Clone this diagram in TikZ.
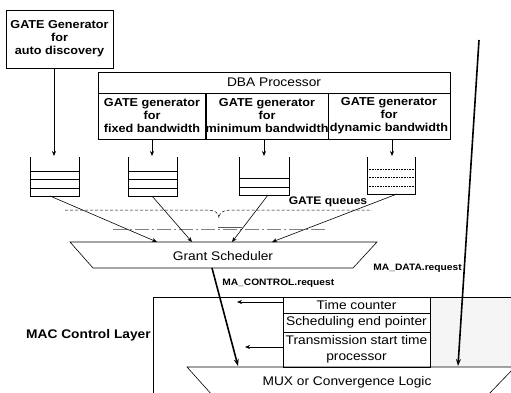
\documentclass[tikz,border=0pt]{standalone}
\usepackage{fontspec}
\setmainfont{Liberation Sans}[FakeStretch=1.1]
\usetikzlibrary{arrows.meta,decorations.pathreplacing}
\begin{document}
\begin{tikzpicture}[x=1pt,y=-1pt, line width=0.6pt,
  box/.style={draw, inner sep=0pt, outer sep=0pt},
  bt/.style={font=\fontsize{11.5}{13}\selectfont\bfseries, align=center},
  rt/.style={font=\fontsize{12.5}{17}\selectfont, align=center},
  sm/.style={font=\fontsize{9.3}{11}\selectfont\bfseries, inner sep=0pt},
  arr/.style={-{Stealth[length=5pt,width=4pt]}},
  bigarr/.style={line width=1.6pt,-{Stealth[length=7pt,width=5pt]}},
  qline/.style={line width=0.6pt},
]
\clip (0,0) rectangle (511,393);
\fill[white] (0,0) rectangle (511,393);
% shaded region
\fill[gray!8] (430,297) rectangle (511,367);

% auto discovery generator
\node[box, bt, minimum width=107pt, minimum height=58pt] (auto) at (59.5,39)
  {GATE Generator\\for\\auto discovery};

% DBA processor
\node[box, rt, minimum width=352pt, minimum height=21pt] (dba) at (274,82.5) {DBA Processor};
\node[box, bt, minimum width=108pt, minimum height=46pt] (c1) at (152,116)
  {GATE generator\\for\\fixed bandwidth};
\node[box, bt, minimum width=122pt, minimum height=46pt] (c2) at (267,116)
  {GATE generator\\for\\minimum bandwidth};
\node[box, bt, minimum width=122pt, minimum height=46pt] (c3) at (389,116)
  {GATE generator\\for\\dynamic bandwidth};

% queues
\draw[qline] (30,157) -- (30,196) -- (79,196) -- (79,157);
\draw[qline] (30,171) -- (79,171) (30,179) -- (79,179) (30,188) -- (79,188);
\draw[qline] (128,157) -- (128,196) -- (177,196) -- (177,157);
\draw[qline] (128,171) -- (177,171) (128,179) -- (177,179) (128,188) -- (177,188);
\draw[qline] (239,157) -- (239,195) -- (289,195) -- (289,157);
\draw[qline] (239,178) -- (289,178) (239,187) -- (289,187);
\draw[qline] (367,157) -- (367,194) -- (415,194) -- (415,157);
\draw[qline, densely dotted] (367,169) -- (415,169) (367,177) -- (415,177) (367,186) -- (415,186);

\coordinate (q1t) at (54,156);
\coordinate (q2t) at (152,156);
\coordinate (q3t) at (264,156);
\coordinate (q4t) at (392,156);
\coordinate (q1b) at (50,196);
\coordinate (q2b) at (152,196);
\coordinate (q3b) at (268,195);
\coordinate (q4b) at (397,194);

\draw[arr] (auto.south -| q1t) -- (q1t);
\draw[arr] (c1.south -| q2t) -- (q2t);
\draw[arr] (c2.south -| q3t) -- (q3t);
\draw[arr] (c3.south -| q4t) -- (q4t);

% GATE queues brace
\draw[densely dashed, line width=0.5pt] (65,210) -- (205,210)
  .. controls (214,210) and (219,212) .. (219,218)
  .. controls (219,212) and (224,210) .. (233,210) -- (372,210);
\node[sm, font=\fontsize{11}{13}\selectfont\bfseries, fill=white, inner sep=1pt] (gq) at (328,202) {GATE queues};
\draw[gray, line width=0.5pt, dash pattern=on 14pt off 3pt on 2pt off 3pt] (113,229) -- (327,229);
\draw[gray!70!black, line width=0.6pt] (218,227) -- (242,227);

% grant scheduler
\draw (70,242) -- (377,242) -- (353,268) -- (93,268) -- cycle;
\node[rt] (gs) at (223,256) {Grant Scheduler};
\coordinate (g1) at (157,242);
\coordinate (g2) at (192,242);
\coordinate (g3) at (232,242);
\coordinate (g4) at (272,242);
\coordinate (gb) at (212,268);
\draw[arr] (q1b) -- (g1);
\draw[arr] (q2b) -- (g2);
\draw[arr] (q3b) -- (g3);
\draw[arr] (q4b) -- (g4);

% MAC control layer
\draw (520,297) -- (153,297) -- (153,400);
\node[rt, font=\fontsize{12.5}{15}\selectfont\bfseries, anchor=east, inner sep=1pt] (mcl) at (152,335) {MAC Control Layer};

% inner boxes
\node[box, rt, minimum width=147pt, minimum height=16pt] (tc) at (356.5,305) {Time counter};
\node[box, rt, minimum width=147pt, minimum height=19pt] (sep) at (356.5,322.5) {Scheduling end pointer};
\node[box, rt, minimum width=147pt, minimum height=35pt, font=\fontsize{12.5}{16}\selectfont] (tst) at (356.5,349.5) {Transmission start time\\processor};
\coordinate (l1) at (237,302);
\coordinate (l2) at (245,347);
\draw[arr] (tc.west |- l1) -- (l1);
\draw[arr] (tst.west |- l2) -- (l2);

% MUX
\draw (213,396) -- (187,367) -- (515,367) -- (487,396);
\node[rt] (mux) at (347,382) {MUX or Convergence Logic};
\coordinate (m1) at (238,366);
\coordinate (m2) at (458,366);

% request lines
\coordinate (dtop) at (479,40);
\draw[bigarr] (gb) -- (m1);
\draw[bigarr] (dtop) -- (m2);
\node[sm, anchor=west] (mac) at (222,283) {MA\_CONTROL.request};
\node[sm, anchor=east] (mad) at (462,268) {MA\_DATA.request};
\end{tikzpicture}
\end{document}
